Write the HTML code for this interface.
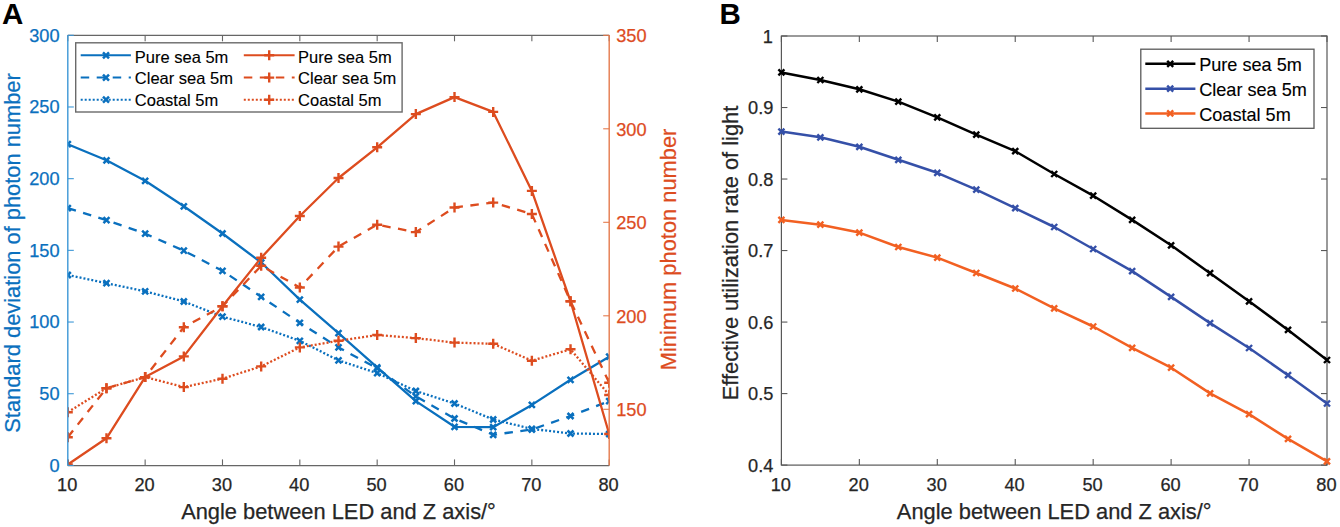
<!DOCTYPE html><html><head><meta charset="utf-8"><style>html,body{margin:0;padding:0;background:#fff;}svg{display:block;}</style></head><body>
<svg width="1340" height="527" viewBox="0 0 1340 527" style="font-family:'Liberation Sans', sans-serif">
<rect width="1340" height="527" fill="#fff"/>
<defs><clipPath id="ca"><rect x="67.8" y="35.3" width="541.4000000000001" height="430.09999999999997"/></clipPath></defs>
<g clip-path="url(#ca)">
<path d="M67.80,144.20 L106.47,160.30 L145.14,180.80 L183.81,206.30 L222.49,233.50 L261.16,262.50 L299.83,299.70 L338.50,333.20 L377.17,367.40 L415.84,401.10 L454.51,426.80 L493.19,427.20 L531.86,404.90 L570.53,379.80 L609.20,356.70" stroke="#0A70BE" stroke-width="2.3" fill="none" stroke-linejoin="round"/>
<path d="M64.80,141.20 L70.80,147.20 M64.80,147.20 L70.80,141.20" stroke="#0A70BE" stroke-width="2.5" fill="none"/>
<path d="M103.47,157.30 L109.47,163.30 M103.47,163.30 L109.47,157.30" stroke="#0A70BE" stroke-width="2.5" fill="none"/>
<path d="M142.14,177.80 L148.14,183.80 M142.14,183.80 L148.14,177.80" stroke="#0A70BE" stroke-width="2.5" fill="none"/>
<path d="M180.81,203.30 L186.81,209.30 M180.81,209.30 L186.81,203.30" stroke="#0A70BE" stroke-width="2.5" fill="none"/>
<path d="M219.49,230.50 L225.49,236.50 M219.49,236.50 L225.49,230.50" stroke="#0A70BE" stroke-width="2.5" fill="none"/>
<path d="M258.16,259.50 L264.16,265.50 M258.16,265.50 L264.16,259.50" stroke="#0A70BE" stroke-width="2.5" fill="none"/>
<path d="M296.83,296.70 L302.83,302.70 M296.83,302.70 L302.83,296.70" stroke="#0A70BE" stroke-width="2.5" fill="none"/>
<path d="M335.50,330.20 L341.50,336.20 M335.50,336.20 L341.50,330.20" stroke="#0A70BE" stroke-width="2.5" fill="none"/>
<path d="M374.17,364.40 L380.17,370.40 M374.17,370.40 L380.17,364.40" stroke="#0A70BE" stroke-width="2.5" fill="none"/>
<path d="M412.84,398.10 L418.84,404.10 M412.84,404.10 L418.84,398.10" stroke="#0A70BE" stroke-width="2.5" fill="none"/>
<path d="M451.51,423.80 L457.51,429.80 M451.51,429.80 L457.51,423.80" stroke="#0A70BE" stroke-width="2.5" fill="none"/>
<path d="M490.19,424.20 L496.19,430.20 M490.19,430.20 L496.19,424.20" stroke="#0A70BE" stroke-width="2.5" fill="none"/>
<path d="M528.86,401.90 L534.86,407.90 M528.86,407.90 L534.86,401.90" stroke="#0A70BE" stroke-width="2.5" fill="none"/>
<path d="M567.53,376.80 L573.53,382.80 M567.53,382.80 L573.53,376.80" stroke="#0A70BE" stroke-width="2.5" fill="none"/>
<path d="M606.20,353.70 L612.20,359.70 M606.20,359.70 L612.20,353.70" stroke="#0A70BE" stroke-width="2.5" fill="none"/>
<path d="M67.80,208.10 L106.47,220.20 L145.14,233.60 L183.81,250.70 L222.49,270.80 L261.16,296.80 L299.83,322.80 L338.50,347.40 L377.17,368.30 L415.84,396.40 L454.51,418.50 L493.19,434.80 L531.86,429.50 L570.53,416.00 L609.20,401.10" stroke="#0A70BE" stroke-width="2.3" fill="none" stroke-linejoin="round" stroke-dasharray="8.5 7.5"/>
<path d="M64.80,205.10 L70.80,211.10 M64.80,211.10 L70.80,205.10" stroke="#0A70BE" stroke-width="2.5" fill="none"/>
<path d="M103.47,217.20 L109.47,223.20 M103.47,223.20 L109.47,217.20" stroke="#0A70BE" stroke-width="2.5" fill="none"/>
<path d="M142.14,230.60 L148.14,236.60 M142.14,236.60 L148.14,230.60" stroke="#0A70BE" stroke-width="2.5" fill="none"/>
<path d="M180.81,247.70 L186.81,253.70 M180.81,253.70 L186.81,247.70" stroke="#0A70BE" stroke-width="2.5" fill="none"/>
<path d="M219.49,267.80 L225.49,273.80 M219.49,273.80 L225.49,267.80" stroke="#0A70BE" stroke-width="2.5" fill="none"/>
<path d="M258.16,293.80 L264.16,299.80 M258.16,299.80 L264.16,293.80" stroke="#0A70BE" stroke-width="2.5" fill="none"/>
<path d="M296.83,319.80 L302.83,325.80 M296.83,325.80 L302.83,319.80" stroke="#0A70BE" stroke-width="2.5" fill="none"/>
<path d="M335.50,344.40 L341.50,350.40 M335.50,350.40 L341.50,344.40" stroke="#0A70BE" stroke-width="2.5" fill="none"/>
<path d="M374.17,365.30 L380.17,371.30 M374.17,371.30 L380.17,365.30" stroke="#0A70BE" stroke-width="2.5" fill="none"/>
<path d="M412.84,393.40 L418.84,399.40 M412.84,399.40 L418.84,393.40" stroke="#0A70BE" stroke-width="2.5" fill="none"/>
<path d="M451.51,415.50 L457.51,421.50 M451.51,421.50 L457.51,415.50" stroke="#0A70BE" stroke-width="2.5" fill="none"/>
<path d="M490.19,431.80 L496.19,437.80 M490.19,437.80 L496.19,431.80" stroke="#0A70BE" stroke-width="2.5" fill="none"/>
<path d="M528.86,426.50 L534.86,432.50 M528.86,432.50 L534.86,426.50" stroke="#0A70BE" stroke-width="2.5" fill="none"/>
<path d="M567.53,413.00 L573.53,419.00 M567.53,419.00 L573.53,413.00" stroke="#0A70BE" stroke-width="2.5" fill="none"/>
<path d="M606.20,398.10 L612.20,404.10 M606.20,404.10 L612.20,398.10" stroke="#0A70BE" stroke-width="2.5" fill="none"/>
<path d="M67.80,275.00 L106.47,283.20 L145.14,291.30 L183.81,301.50 L222.49,316.70 L261.16,327.00 L299.83,340.80 L338.50,360.40 L377.17,373.10 L415.84,391.00 L454.51,403.50 L493.19,419.50 L531.86,428.90 L570.53,433.50 L609.20,434.00" stroke="#0A70BE" stroke-width="2.3" fill="none" stroke-linejoin="round" stroke-dasharray="2 2"/>
<path d="M64.80,272.00 L70.80,278.00 M64.80,278.00 L70.80,272.00" stroke="#0A70BE" stroke-width="2.5" fill="none"/>
<path d="M103.47,280.20 L109.47,286.20 M103.47,286.20 L109.47,280.20" stroke="#0A70BE" stroke-width="2.5" fill="none"/>
<path d="M142.14,288.30 L148.14,294.30 M142.14,294.30 L148.14,288.30" stroke="#0A70BE" stroke-width="2.5" fill="none"/>
<path d="M180.81,298.50 L186.81,304.50 M180.81,304.50 L186.81,298.50" stroke="#0A70BE" stroke-width="2.5" fill="none"/>
<path d="M219.49,313.70 L225.49,319.70 M219.49,319.70 L225.49,313.70" stroke="#0A70BE" stroke-width="2.5" fill="none"/>
<path d="M258.16,324.00 L264.16,330.00 M258.16,330.00 L264.16,324.00" stroke="#0A70BE" stroke-width="2.5" fill="none"/>
<path d="M296.83,337.80 L302.83,343.80 M296.83,343.80 L302.83,337.80" stroke="#0A70BE" stroke-width="2.5" fill="none"/>
<path d="M335.50,357.40 L341.50,363.40 M335.50,363.40 L341.50,357.40" stroke="#0A70BE" stroke-width="2.5" fill="none"/>
<path d="M374.17,370.10 L380.17,376.10 M374.17,376.10 L380.17,370.10" stroke="#0A70BE" stroke-width="2.5" fill="none"/>
<path d="M412.84,388.00 L418.84,394.00 M412.84,394.00 L418.84,388.00" stroke="#0A70BE" stroke-width="2.5" fill="none"/>
<path d="M451.51,400.50 L457.51,406.50 M451.51,406.50 L457.51,400.50" stroke="#0A70BE" stroke-width="2.5" fill="none"/>
<path d="M490.19,416.50 L496.19,422.50 M490.19,422.50 L496.19,416.50" stroke="#0A70BE" stroke-width="2.5" fill="none"/>
<path d="M528.86,425.90 L534.86,431.90 M528.86,431.90 L534.86,425.90" stroke="#0A70BE" stroke-width="2.5" fill="none"/>
<path d="M567.53,430.50 L573.53,436.50 M567.53,436.50 L573.53,430.50" stroke="#0A70BE" stroke-width="2.5" fill="none"/>
<path d="M606.20,431.00 L612.20,437.00 M606.20,437.00 L612.20,431.00" stroke="#0A70BE" stroke-width="2.5" fill="none"/>
<path d="M67.80,464.50 L106.47,438.30 L145.14,377.10 L183.81,356.40 L222.49,306.30 L261.16,257.80 L299.83,216.00 L338.50,178.00 L377.17,147.30 L415.84,114.10 L454.51,97.10 L493.19,111.90 L531.86,190.90 L570.53,301.30 L609.20,434.00" stroke="#DD4C1F" stroke-width="2.3" fill="none" stroke-linejoin="round"/>
<path d="M62.80,464.50 L72.80,464.50 M67.80,459.50 L67.80,469.50" stroke="#DD4C1F" stroke-width="2.4" fill="none"/>
<path d="M101.47,438.30 L111.47,438.30 M106.47,433.30 L106.47,443.30" stroke="#DD4C1F" stroke-width="2.4" fill="none"/>
<path d="M140.14,377.10 L150.14,377.10 M145.14,372.10 L145.14,382.10" stroke="#DD4C1F" stroke-width="2.4" fill="none"/>
<path d="M178.81,356.40 L188.81,356.40 M183.81,351.40 L183.81,361.40" stroke="#DD4C1F" stroke-width="2.4" fill="none"/>
<path d="M217.49,306.30 L227.49,306.30 M222.49,301.30 L222.49,311.30" stroke="#DD4C1F" stroke-width="2.4" fill="none"/>
<path d="M256.16,257.80 L266.16,257.80 M261.16,252.80 L261.16,262.80" stroke="#DD4C1F" stroke-width="2.4" fill="none"/>
<path d="M294.83,216.00 L304.83,216.00 M299.83,211.00 L299.83,221.00" stroke="#DD4C1F" stroke-width="2.4" fill="none"/>
<path d="M333.50,178.00 L343.50,178.00 M338.50,173.00 L338.50,183.00" stroke="#DD4C1F" stroke-width="2.4" fill="none"/>
<path d="M372.17,147.30 L382.17,147.30 M377.17,142.30 L377.17,152.30" stroke="#DD4C1F" stroke-width="2.4" fill="none"/>
<path d="M410.84,114.10 L420.84,114.10 M415.84,109.10 L415.84,119.10" stroke="#DD4C1F" stroke-width="2.4" fill="none"/>
<path d="M449.51,97.10 L459.51,97.10 M454.51,92.10 L454.51,102.10" stroke="#DD4C1F" stroke-width="2.4" fill="none"/>
<path d="M488.19,111.90 L498.19,111.90 M493.19,106.90 L493.19,116.90" stroke="#DD4C1F" stroke-width="2.4" fill="none"/>
<path d="M526.86,190.90 L536.86,190.90 M531.86,185.90 L531.86,195.90" stroke="#DD4C1F" stroke-width="2.4" fill="none"/>
<path d="M565.53,301.30 L575.53,301.30 M570.53,296.30 L570.53,306.30" stroke="#DD4C1F" stroke-width="2.4" fill="none"/>
<path d="M604.20,434.00 L614.20,434.00 M609.20,429.00 L609.20,439.00" stroke="#DD4C1F" stroke-width="2.4" fill="none"/>
<path d="M67.80,437.20 L106.47,388.20 L145.14,377.10 L183.81,327.20 L222.49,306.30 L261.16,265.80 L299.83,287.50 L338.50,246.60 L377.17,224.70 L415.84,232.10 L454.51,207.50 L493.19,202.60 L531.86,214.00 L570.53,301.30 L609.20,382.70" stroke="#DD4C1F" stroke-width="2.3" fill="none" stroke-linejoin="round" stroke-dasharray="8.5 7.5"/>
<path d="M62.80,437.20 L72.80,437.20 M67.80,432.20 L67.80,442.20" stroke="#DD4C1F" stroke-width="2.4" fill="none"/>
<path d="M101.47,388.20 L111.47,388.20 M106.47,383.20 L106.47,393.20" stroke="#DD4C1F" stroke-width="2.4" fill="none"/>
<path d="M140.14,377.10 L150.14,377.10 M145.14,372.10 L145.14,382.10" stroke="#DD4C1F" stroke-width="2.4" fill="none"/>
<path d="M178.81,327.20 L188.81,327.20 M183.81,322.20 L183.81,332.20" stroke="#DD4C1F" stroke-width="2.4" fill="none"/>
<path d="M217.49,306.30 L227.49,306.30 M222.49,301.30 L222.49,311.30" stroke="#DD4C1F" stroke-width="2.4" fill="none"/>
<path d="M256.16,265.80 L266.16,265.80 M261.16,260.80 L261.16,270.80" stroke="#DD4C1F" stroke-width="2.4" fill="none"/>
<path d="M294.83,287.50 L304.83,287.50 M299.83,282.50 L299.83,292.50" stroke="#DD4C1F" stroke-width="2.4" fill="none"/>
<path d="M333.50,246.60 L343.50,246.60 M338.50,241.60 L338.50,251.60" stroke="#DD4C1F" stroke-width="2.4" fill="none"/>
<path d="M372.17,224.70 L382.17,224.70 M377.17,219.70 L377.17,229.70" stroke="#DD4C1F" stroke-width="2.4" fill="none"/>
<path d="M410.84,232.10 L420.84,232.10 M415.84,227.10 L415.84,237.10" stroke="#DD4C1F" stroke-width="2.4" fill="none"/>
<path d="M449.51,207.50 L459.51,207.50 M454.51,202.50 L454.51,212.50" stroke="#DD4C1F" stroke-width="2.4" fill="none"/>
<path d="M488.19,202.60 L498.19,202.60 M493.19,197.60 L493.19,207.60" stroke="#DD4C1F" stroke-width="2.4" fill="none"/>
<path d="M526.86,214.00 L536.86,214.00 M531.86,209.00 L531.86,219.00" stroke="#DD4C1F" stroke-width="2.4" fill="none"/>
<path d="M565.53,301.30 L575.53,301.30 M570.53,296.30 L570.53,306.30" stroke="#DD4C1F" stroke-width="2.4" fill="none"/>
<path d="M604.20,382.70 L614.20,382.70 M609.20,377.70 L609.20,387.70" stroke="#DD4C1F" stroke-width="2.4" fill="none"/>
<path d="M67.80,412.20 L106.47,388.20 L145.14,377.10 L183.81,387.10 L222.49,378.70 L261.16,366.40 L299.83,347.40 L338.50,340.80 L377.17,335.00 L415.84,338.10 L454.51,342.60 L493.19,343.80 L531.86,360.70 L570.53,349.30 L609.20,395.00" stroke="#DD4C1F" stroke-width="2.3" fill="none" stroke-linejoin="round" stroke-dasharray="2 2"/>
<path d="M62.80,412.20 L72.80,412.20 M67.80,407.20 L67.80,417.20" stroke="#DD4C1F" stroke-width="2.4" fill="none"/>
<path d="M101.47,388.20 L111.47,388.20 M106.47,383.20 L106.47,393.20" stroke="#DD4C1F" stroke-width="2.4" fill="none"/>
<path d="M140.14,377.10 L150.14,377.10 M145.14,372.10 L145.14,382.10" stroke="#DD4C1F" stroke-width="2.4" fill="none"/>
<path d="M178.81,387.10 L188.81,387.10 M183.81,382.10 L183.81,392.10" stroke="#DD4C1F" stroke-width="2.4" fill="none"/>
<path d="M217.49,378.70 L227.49,378.70 M222.49,373.70 L222.49,383.70" stroke="#DD4C1F" stroke-width="2.4" fill="none"/>
<path d="M256.16,366.40 L266.16,366.40 M261.16,361.40 L261.16,371.40" stroke="#DD4C1F" stroke-width="2.4" fill="none"/>
<path d="M294.83,347.40 L304.83,347.40 M299.83,342.40 L299.83,352.40" stroke="#DD4C1F" stroke-width="2.4" fill="none"/>
<path d="M333.50,340.80 L343.50,340.80 M338.50,335.80 L338.50,345.80" stroke="#DD4C1F" stroke-width="2.4" fill="none"/>
<path d="M372.17,335.00 L382.17,335.00 M377.17,330.00 L377.17,340.00" stroke="#DD4C1F" stroke-width="2.4" fill="none"/>
<path d="M410.84,338.10 L420.84,338.10 M415.84,333.10 L415.84,343.10" stroke="#DD4C1F" stroke-width="2.4" fill="none"/>
<path d="M449.51,342.60 L459.51,342.60 M454.51,337.60 L454.51,347.60" stroke="#DD4C1F" stroke-width="2.4" fill="none"/>
<path d="M488.19,343.80 L498.19,343.80 M493.19,338.80 L493.19,348.80" stroke="#DD4C1F" stroke-width="2.4" fill="none"/>
<path d="M526.86,360.70 L536.86,360.70 M531.86,355.70 L531.86,365.70" stroke="#DD4C1F" stroke-width="2.4" fill="none"/>
<path d="M565.53,349.30 L575.53,349.30 M570.53,344.30 L570.53,354.30" stroke="#DD4C1F" stroke-width="2.4" fill="none"/>
<path d="M604.20,395.00 L614.20,395.00 M609.20,390.00 L609.20,400.00" stroke="#DD4C1F" stroke-width="2.4" fill="none"/>
</g>
<line x1="67.8" y1="35.3" x2="609.2" y2="35.3" stroke="#666666" stroke-width="1.2"/>
<line x1="67.8" y1="465.59999999999997" x2="609.2" y2="465.59999999999997" stroke="#666666" stroke-width="1.3"/>
<line x1="67.80" y1="465.4" x2="67.80" y2="459.4" stroke="#666666" stroke-width="1.1"/>
<line x1="67.80" y1="35.3" x2="67.80" y2="41.3" stroke="#666666" stroke-width="1.1"/>
<text x="67.20" y="490.6" font-size="18.2" fill="#262626" text-anchor="middle" stroke="#262626" stroke-width="0.25">10</text>
<line x1="145.14" y1="465.4" x2="145.14" y2="459.4" stroke="#666666" stroke-width="1.1"/>
<line x1="145.14" y1="35.3" x2="145.14" y2="41.3" stroke="#666666" stroke-width="1.1"/>
<text x="144.54" y="490.6" font-size="18.2" fill="#262626" text-anchor="middle" stroke="#262626" stroke-width="0.25">20</text>
<line x1="222.49" y1="465.4" x2="222.49" y2="459.4" stroke="#666666" stroke-width="1.1"/>
<line x1="222.49" y1="35.3" x2="222.49" y2="41.3" stroke="#666666" stroke-width="1.1"/>
<text x="221.89" y="490.6" font-size="18.2" fill="#262626" text-anchor="middle" stroke="#262626" stroke-width="0.25">30</text>
<line x1="299.83" y1="465.4" x2="299.83" y2="459.4" stroke="#666666" stroke-width="1.1"/>
<line x1="299.83" y1="35.3" x2="299.83" y2="41.3" stroke="#666666" stroke-width="1.1"/>
<text x="299.23" y="490.6" font-size="18.2" fill="#262626" text-anchor="middle" stroke="#262626" stroke-width="0.25">40</text>
<line x1="377.17" y1="465.4" x2="377.17" y2="459.4" stroke="#666666" stroke-width="1.1"/>
<line x1="377.17" y1="35.3" x2="377.17" y2="41.3" stroke="#666666" stroke-width="1.1"/>
<text x="376.57" y="490.6" font-size="18.2" fill="#262626" text-anchor="middle" stroke="#262626" stroke-width="0.25">50</text>
<line x1="454.51" y1="465.4" x2="454.51" y2="459.4" stroke="#666666" stroke-width="1.1"/>
<line x1="454.51" y1="35.3" x2="454.51" y2="41.3" stroke="#666666" stroke-width="1.1"/>
<text x="453.91" y="490.6" font-size="18.2" fill="#262626" text-anchor="middle" stroke="#262626" stroke-width="0.25">60</text>
<line x1="531.86" y1="465.4" x2="531.86" y2="459.4" stroke="#666666" stroke-width="1.1"/>
<line x1="531.86" y1="35.3" x2="531.86" y2="41.3" stroke="#666666" stroke-width="1.1"/>
<text x="531.26" y="490.6" font-size="18.2" fill="#262626" text-anchor="middle" stroke="#262626" stroke-width="0.25">70</text>
<line x1="609.20" y1="465.4" x2="609.20" y2="459.4" stroke="#666666" stroke-width="1.1"/>
<line x1="609.20" y1="35.3" x2="609.20" y2="41.3" stroke="#666666" stroke-width="1.1"/>
<text x="608.60" y="490.6" font-size="18.2" fill="#262626" text-anchor="middle" stroke="#262626" stroke-width="0.25">80</text>
<line x1="67.8" y1="35.3" x2="67.8" y2="465.4" stroke="#3d97d6" stroke-width="1.4"/>
<line x1="609.2" y1="35.3" x2="609.2" y2="465.4" stroke="#e57a4c" stroke-width="1.4"/>
<line x1="67.8" y1="465.40" x2="73.8" y2="465.40" stroke="#3d97d6" stroke-width="1.1"/>
<text x="59.6" y="471.65" font-size="18.2" fill="#0A70BE" text-anchor="end" stroke="#0A70BE" stroke-width="0.25">0</text>
<line x1="67.8" y1="393.72" x2="73.8" y2="393.72" stroke="#3d97d6" stroke-width="1.1"/>
<text x="59.6" y="399.97" font-size="18.2" fill="#0A70BE" text-anchor="end" stroke="#0A70BE" stroke-width="0.25">50</text>
<line x1="67.8" y1="322.03" x2="73.8" y2="322.03" stroke="#3d97d6" stroke-width="1.1"/>
<text x="59.6" y="328.28" font-size="18.2" fill="#0A70BE" text-anchor="end" stroke="#0A70BE" stroke-width="0.25">100</text>
<line x1="67.8" y1="250.35" x2="73.8" y2="250.35" stroke="#3d97d6" stroke-width="1.1"/>
<text x="59.6" y="256.60" font-size="18.2" fill="#0A70BE" text-anchor="end" stroke="#0A70BE" stroke-width="0.25">150</text>
<line x1="67.8" y1="178.67" x2="73.8" y2="178.67" stroke="#3d97d6" stroke-width="1.1"/>
<text x="59.6" y="184.92" font-size="18.2" fill="#0A70BE" text-anchor="end" stroke="#0A70BE" stroke-width="0.25">200</text>
<line x1="67.8" y1="106.98" x2="73.8" y2="106.98" stroke="#3d97d6" stroke-width="1.1"/>
<text x="59.6" y="113.23" font-size="18.2" fill="#0A70BE" text-anchor="end" stroke="#0A70BE" stroke-width="0.25">250</text>
<line x1="67.8" y1="35.30" x2="73.8" y2="35.30" stroke="#3d97d6" stroke-width="1.1"/>
<text x="59.6" y="41.55" font-size="18.2" fill="#0A70BE" text-anchor="end" stroke="#0A70BE" stroke-width="0.25">300</text>
<line x1="609.2" y1="409.30" x2="603.2" y2="409.30" stroke="#e57a4c" stroke-width="1.1"/>
<text x="616.2" y="416.30" font-size="18.2" fill="#DD4C1F" stroke="#DD4C1F" stroke-width="0.25">150</text>
<line x1="609.2" y1="315.80" x2="603.2" y2="315.80" stroke="#e57a4c" stroke-width="1.1"/>
<text x="616.2" y="322.80" font-size="18.2" fill="#DD4C1F" stroke="#DD4C1F" stroke-width="0.25">200</text>
<line x1="609.2" y1="222.30" x2="603.2" y2="222.30" stroke="#e57a4c" stroke-width="1.1"/>
<text x="616.2" y="229.30" font-size="18.2" fill="#DD4C1F" stroke="#DD4C1F" stroke-width="0.25">250</text>
<line x1="609.2" y1="128.80" x2="603.2" y2="128.80" stroke="#e57a4c" stroke-width="1.1"/>
<text x="616.2" y="135.80" font-size="18.2" fill="#DD4C1F" stroke="#DD4C1F" stroke-width="0.25">300</text>
<line x1="609.2" y1="35.30" x2="603.2" y2="35.30" stroke="#e57a4c" stroke-width="1.1"/>
<text x="616.2" y="42.30" font-size="18.2" fill="#DD4C1F" stroke="#DD4C1F" stroke-width="0.25">350</text>
<text x="338.5" y="519.3" font-size="21.85" fill="#262626" text-anchor="middle" stroke="#262626" stroke-width="0.25">Angle between LED and Z axis/°</text>
<text transform="translate(20,253) rotate(-90)" font-size="21.85" fill="#0A70BE" text-anchor="middle" stroke="#0A70BE" stroke-width="0.25">Standard deviation of photon number</text>
<text transform="translate(676,249.5) rotate(-90)" font-size="21.85" fill="#DD4C1F" text-anchor="middle" stroke="#DD4C1F" stroke-width="0.25">Minimum photon number</text>
<text x="2.0" y="23.7" font-size="29.5" font-weight="bold" fill="#000">A</text>
<rect x="75.7" y="42.8" width="326.4" height="69.2" fill="#fff" stroke="#6a6a6a" stroke-width="1.4"/>
<path d="M80.7,55.3 L130.9,55.3" stroke="#0A70BE" stroke-width="2" fill="none"/>
<path d="M103.00,52.30 L109.00,58.30 M103.00,58.30 L109.00,52.30" stroke="#0A70BE" stroke-width="2.5" fill="none"/>
<text x="134.8" y="62.7" font-size="16.5" fill="#000" stroke="#000" stroke-width="0.12">Pure sea 5m</text>
<path d="M243.8,55.3 L294.6,55.3" stroke="#DD4C1F" stroke-width="2" fill="none"/>
<path d="M264.20,55.30 L274.20,55.30 M269.20,50.30 L269.20,60.30" stroke="#DD4C1F" stroke-width="2.4" fill="none"/>
<text x="298.1" y="62.7" font-size="16.5" fill="#000" stroke="#000" stroke-width="0.12">Pure sea 5m</text>
<path d="M80.7,77.6 L130.9,77.6" stroke="#0A70BE" stroke-width="2" fill="none" stroke-dasharray="8.5 7.5"/>
<path d="M103.00,74.60 L109.00,80.60 M103.00,80.60 L109.00,74.60" stroke="#0A70BE" stroke-width="2.5" fill="none"/>
<text x="134.8" y="84.3" font-size="16.5" fill="#000" stroke="#000" stroke-width="0.12">Clear sea 5m</text>
<path d="M243.8,77.6 L294.6,77.6" stroke="#DD4C1F" stroke-width="2" fill="none" stroke-dasharray="8.5 7.5"/>
<path d="M264.20,77.60 L274.20,77.60 M269.20,72.60 L269.20,82.60" stroke="#DD4C1F" stroke-width="2.4" fill="none"/>
<text x="298.1" y="84.3" font-size="16.5" fill="#000" stroke="#000" stroke-width="0.12">Clear sea 5m</text>
<path d="M80.7,99.7 L130.9,99.7" stroke="#0A70BE" stroke-width="2" fill="none" stroke-dasharray="2 2"/>
<path d="M103.00,96.70 L109.00,102.70 M103.00,102.70 L109.00,96.70" stroke="#0A70BE" stroke-width="2.5" fill="none"/>
<text x="134.8" y="106.3" font-size="16.5" fill="#000" stroke="#000" stroke-width="0.12">Coastal 5m</text>
<path d="M243.8,99.7 L294.6,99.7" stroke="#DD4C1F" stroke-width="2" fill="none" stroke-dasharray="2 2"/>
<path d="M264.20,99.70 L274.20,99.70 M269.20,94.70 L269.20,104.70" stroke="#DD4C1F" stroke-width="2.4" fill="none"/>
<text x="298.1" y="106.3" font-size="16.5" fill="#000" stroke="#000" stroke-width="0.12">Coastal 5m</text>
<rect x="781.4" y="36.0" width="545.6" height="429.1" fill="none" stroke="#585858" stroke-width="1.2"/>
<line x1="781.40" y1="465.1" x2="781.40" y2="459.1" stroke="#585858" stroke-width="1.1"/>
<line x1="781.40" y1="36.0" x2="781.40" y2="42.0" stroke="#585858" stroke-width="1.1"/>
<text x="780.80" y="490.6" font-size="18.2" fill="#262626" text-anchor="middle" stroke="#262626" stroke-width="0.25">10</text>
<line x1="859.34" y1="465.1" x2="859.34" y2="459.1" stroke="#585858" stroke-width="1.1"/>
<line x1="859.34" y1="36.0" x2="859.34" y2="42.0" stroke="#585858" stroke-width="1.1"/>
<text x="858.74" y="490.6" font-size="18.2" fill="#262626" text-anchor="middle" stroke="#262626" stroke-width="0.25">20</text>
<line x1="937.29" y1="465.1" x2="937.29" y2="459.1" stroke="#585858" stroke-width="1.1"/>
<line x1="937.29" y1="36.0" x2="937.29" y2="42.0" stroke="#585858" stroke-width="1.1"/>
<text x="936.69" y="490.6" font-size="18.2" fill="#262626" text-anchor="middle" stroke="#262626" stroke-width="0.25">30</text>
<line x1="1015.23" y1="465.1" x2="1015.23" y2="459.1" stroke="#585858" stroke-width="1.1"/>
<line x1="1015.23" y1="36.0" x2="1015.23" y2="42.0" stroke="#585858" stroke-width="1.1"/>
<text x="1014.63" y="490.6" font-size="18.2" fill="#262626" text-anchor="middle" stroke="#262626" stroke-width="0.25">40</text>
<line x1="1093.17" y1="465.1" x2="1093.17" y2="459.1" stroke="#585858" stroke-width="1.1"/>
<line x1="1093.17" y1="36.0" x2="1093.17" y2="42.0" stroke="#585858" stroke-width="1.1"/>
<text x="1092.57" y="490.6" font-size="18.2" fill="#262626" text-anchor="middle" stroke="#262626" stroke-width="0.25">50</text>
<line x1="1171.11" y1="465.1" x2="1171.11" y2="459.1" stroke="#585858" stroke-width="1.1"/>
<line x1="1171.11" y1="36.0" x2="1171.11" y2="42.0" stroke="#585858" stroke-width="1.1"/>
<text x="1170.51" y="490.6" font-size="18.2" fill="#262626" text-anchor="middle" stroke="#262626" stroke-width="0.25">60</text>
<line x1="1249.06" y1="465.1" x2="1249.06" y2="459.1" stroke="#585858" stroke-width="1.1"/>
<line x1="1249.06" y1="36.0" x2="1249.06" y2="42.0" stroke="#585858" stroke-width="1.1"/>
<text x="1248.46" y="490.6" font-size="18.2" fill="#262626" text-anchor="middle" stroke="#262626" stroke-width="0.25">70</text>
<line x1="1327.00" y1="465.1" x2="1327.00" y2="459.1" stroke="#585858" stroke-width="1.1"/>
<line x1="1327.00" y1="36.0" x2="1327.00" y2="42.0" stroke="#585858" stroke-width="1.1"/>
<text x="1326.40" y="490.6" font-size="18.2" fill="#262626" text-anchor="middle" stroke="#262626" stroke-width="0.25">80</text>
<line x1="781.4" y1="465.10" x2="787.4" y2="465.10" stroke="#585858" stroke-width="1.1"/>
<line x1="1327.0" y1="465.10" x2="1321.0" y2="465.10" stroke="#585858" stroke-width="1.1"/>
<text x="773.4" y="471.80" font-size="18.2" fill="#262626" text-anchor="end" stroke="#262626" stroke-width="0.25">0.4</text>
<line x1="781.4" y1="393.58" x2="787.4" y2="393.58" stroke="#585858" stroke-width="1.1"/>
<line x1="1327.0" y1="393.58" x2="1321.0" y2="393.58" stroke="#585858" stroke-width="1.1"/>
<text x="773.4" y="400.28" font-size="18.2" fill="#262626" text-anchor="end" stroke="#262626" stroke-width="0.25">0.5</text>
<line x1="781.4" y1="322.07" x2="787.4" y2="322.07" stroke="#585858" stroke-width="1.1"/>
<line x1="1327.0" y1="322.07" x2="1321.0" y2="322.07" stroke="#585858" stroke-width="1.1"/>
<text x="773.4" y="328.77" font-size="18.2" fill="#262626" text-anchor="end" stroke="#262626" stroke-width="0.25">0.6</text>
<line x1="781.4" y1="250.55" x2="787.4" y2="250.55" stroke="#585858" stroke-width="1.1"/>
<line x1="1327.0" y1="250.55" x2="1321.0" y2="250.55" stroke="#585858" stroke-width="1.1"/>
<text x="773.4" y="257.25" font-size="18.2" fill="#262626" text-anchor="end" stroke="#262626" stroke-width="0.25">0.7</text>
<line x1="781.4" y1="179.03" x2="787.4" y2="179.03" stroke="#585858" stroke-width="1.1"/>
<line x1="1327.0" y1="179.03" x2="1321.0" y2="179.03" stroke="#585858" stroke-width="1.1"/>
<text x="773.4" y="185.73" font-size="18.2" fill="#262626" text-anchor="end" stroke="#262626" stroke-width="0.25">0.8</text>
<line x1="781.4" y1="107.52" x2="787.4" y2="107.52" stroke="#585858" stroke-width="1.1"/>
<line x1="1327.0" y1="107.52" x2="1321.0" y2="107.52" stroke="#585858" stroke-width="1.1"/>
<text x="773.4" y="114.22" font-size="18.2" fill="#262626" text-anchor="end" stroke="#262626" stroke-width="0.25">0.9</text>
<line x1="781.4" y1="36.00" x2="787.4" y2="36.00" stroke="#585858" stroke-width="1.1"/>
<line x1="1327.0" y1="36.00" x2="1321.0" y2="36.00" stroke="#585858" stroke-width="1.1"/>
<text x="767.7" y="42.70" font-size="18.2" fill="#262626" text-anchor="middle" stroke="#262626" stroke-width="0.25">1</text>
<path d="M781.40,72.40 L820.37,80.00 L859.34,89.30 L898.31,101.60 L937.29,117.40 L976.26,134.70 L1015.23,151.20 L1054.20,174.00 L1093.17,195.70 L1132.14,219.90 L1171.11,245.30 L1210.09,273.20 L1249.06,301.30 L1288.03,329.90 L1327.00,360.00" stroke="#000" stroke-width="2.5" fill="none" stroke-linejoin="round"/>
<path d="M778.40,69.40 L784.40,75.40 M778.40,75.40 L784.40,69.40" stroke="#000" stroke-width="2.4" fill="none"/>
<path d="M817.37,77.00 L823.37,83.00 M817.37,83.00 L823.37,77.00" stroke="#000" stroke-width="2.4" fill="none"/>
<path d="M856.34,86.30 L862.34,92.30 M856.34,92.30 L862.34,86.30" stroke="#000" stroke-width="2.4" fill="none"/>
<path d="M895.31,98.60 L901.31,104.60 M895.31,104.60 L901.31,98.60" stroke="#000" stroke-width="2.4" fill="none"/>
<path d="M934.29,114.40 L940.29,120.40 M934.29,120.40 L940.29,114.40" stroke="#000" stroke-width="2.4" fill="none"/>
<path d="M973.26,131.70 L979.26,137.70 M973.26,137.70 L979.26,131.70" stroke="#000" stroke-width="2.4" fill="none"/>
<path d="M1012.23,148.20 L1018.23,154.20 M1012.23,154.20 L1018.23,148.20" stroke="#000" stroke-width="2.4" fill="none"/>
<path d="M1051.20,171.00 L1057.20,177.00 M1051.20,177.00 L1057.20,171.00" stroke="#000" stroke-width="2.4" fill="none"/>
<path d="M1090.17,192.70 L1096.17,198.70 M1090.17,198.70 L1096.17,192.70" stroke="#000" stroke-width="2.4" fill="none"/>
<path d="M1129.14,216.90 L1135.14,222.90 M1129.14,222.90 L1135.14,216.90" stroke="#000" stroke-width="2.4" fill="none"/>
<path d="M1168.11,242.30 L1174.11,248.30 M1168.11,248.30 L1174.11,242.30" stroke="#000" stroke-width="2.4" fill="none"/>
<path d="M1207.09,270.20 L1213.09,276.20 M1207.09,276.20 L1213.09,270.20" stroke="#000" stroke-width="2.4" fill="none"/>
<path d="M1246.06,298.30 L1252.06,304.30 M1246.06,304.30 L1252.06,298.30" stroke="#000" stroke-width="2.4" fill="none"/>
<path d="M1285.03,326.90 L1291.03,332.90 M1285.03,332.90 L1291.03,326.90" stroke="#000" stroke-width="2.4" fill="none"/>
<path d="M1324.00,357.00 L1330.00,363.00 M1324.00,363.00 L1330.00,357.00" stroke="#000" stroke-width="2.4" fill="none"/>
<path d="M781.40,131.60 L820.37,137.30 L859.34,146.80 L898.31,159.80 L937.29,172.80 L976.26,189.70 L1015.23,208.20 L1054.20,227.00 L1093.17,249.00 L1132.14,271.10 L1171.11,296.90 L1210.09,323.10 L1249.06,348.00 L1288.03,375.20 L1327.00,403.50" stroke="#3550A8" stroke-width="2.5" fill="none" stroke-linejoin="round"/>
<path d="M778.40,128.60 L784.40,134.60 M778.40,134.60 L784.40,128.60" stroke="#3550A8" stroke-width="2.4" fill="none"/>
<path d="M817.37,134.30 L823.37,140.30 M817.37,140.30 L823.37,134.30" stroke="#3550A8" stroke-width="2.4" fill="none"/>
<path d="M856.34,143.80 L862.34,149.80 M856.34,149.80 L862.34,143.80" stroke="#3550A8" stroke-width="2.4" fill="none"/>
<path d="M895.31,156.80 L901.31,162.80 M895.31,162.80 L901.31,156.80" stroke="#3550A8" stroke-width="2.4" fill="none"/>
<path d="M934.29,169.80 L940.29,175.80 M934.29,175.80 L940.29,169.80" stroke="#3550A8" stroke-width="2.4" fill="none"/>
<path d="M973.26,186.70 L979.26,192.70 M973.26,192.70 L979.26,186.70" stroke="#3550A8" stroke-width="2.4" fill="none"/>
<path d="M1012.23,205.20 L1018.23,211.20 M1012.23,211.20 L1018.23,205.20" stroke="#3550A8" stroke-width="2.4" fill="none"/>
<path d="M1051.20,224.00 L1057.20,230.00 M1051.20,230.00 L1057.20,224.00" stroke="#3550A8" stroke-width="2.4" fill="none"/>
<path d="M1090.17,246.00 L1096.17,252.00 M1090.17,252.00 L1096.17,246.00" stroke="#3550A8" stroke-width="2.4" fill="none"/>
<path d="M1129.14,268.10 L1135.14,274.10 M1129.14,274.10 L1135.14,268.10" stroke="#3550A8" stroke-width="2.4" fill="none"/>
<path d="M1168.11,293.90 L1174.11,299.90 M1168.11,299.90 L1174.11,293.90" stroke="#3550A8" stroke-width="2.4" fill="none"/>
<path d="M1207.09,320.10 L1213.09,326.10 M1207.09,326.10 L1213.09,320.10" stroke="#3550A8" stroke-width="2.4" fill="none"/>
<path d="M1246.06,345.00 L1252.06,351.00 M1246.06,351.00 L1252.06,345.00" stroke="#3550A8" stroke-width="2.4" fill="none"/>
<path d="M1285.03,372.20 L1291.03,378.20 M1285.03,378.20 L1291.03,372.20" stroke="#3550A8" stroke-width="2.4" fill="none"/>
<path d="M1324.00,400.50 L1330.00,406.50 M1324.00,406.50 L1330.00,400.50" stroke="#3550A8" stroke-width="2.4" fill="none"/>
<path d="M781.40,219.90 L820.37,224.70 L859.34,232.60 L898.31,247.00 L937.29,257.60 L976.26,273.00 L1015.23,288.50 L1054.20,308.30 L1093.17,326.50 L1132.14,347.80 L1171.11,367.70 L1210.09,393.40 L1249.06,414.10 L1288.03,438.90 L1327.00,461.40" stroke="#F26022" stroke-width="2.5" fill="none" stroke-linejoin="round"/>
<path d="M778.40,216.90 L784.40,222.90 M778.40,222.90 L784.40,216.90" stroke="#F26022" stroke-width="2.4" fill="none"/>
<path d="M817.37,221.70 L823.37,227.70 M817.37,227.70 L823.37,221.70" stroke="#F26022" stroke-width="2.4" fill="none"/>
<path d="M856.34,229.60 L862.34,235.60 M856.34,235.60 L862.34,229.60" stroke="#F26022" stroke-width="2.4" fill="none"/>
<path d="M895.31,244.00 L901.31,250.00 M895.31,250.00 L901.31,244.00" stroke="#F26022" stroke-width="2.4" fill="none"/>
<path d="M934.29,254.60 L940.29,260.60 M934.29,260.60 L940.29,254.60" stroke="#F26022" stroke-width="2.4" fill="none"/>
<path d="M973.26,270.00 L979.26,276.00 M973.26,276.00 L979.26,270.00" stroke="#F26022" stroke-width="2.4" fill="none"/>
<path d="M1012.23,285.50 L1018.23,291.50 M1012.23,291.50 L1018.23,285.50" stroke="#F26022" stroke-width="2.4" fill="none"/>
<path d="M1051.20,305.30 L1057.20,311.30 M1051.20,311.30 L1057.20,305.30" stroke="#F26022" stroke-width="2.4" fill="none"/>
<path d="M1090.17,323.50 L1096.17,329.50 M1090.17,329.50 L1096.17,323.50" stroke="#F26022" stroke-width="2.4" fill="none"/>
<path d="M1129.14,344.80 L1135.14,350.80 M1129.14,350.80 L1135.14,344.80" stroke="#F26022" stroke-width="2.4" fill="none"/>
<path d="M1168.11,364.70 L1174.11,370.70 M1168.11,370.70 L1174.11,364.70" stroke="#F26022" stroke-width="2.4" fill="none"/>
<path d="M1207.09,390.40 L1213.09,396.40 M1207.09,396.40 L1213.09,390.40" stroke="#F26022" stroke-width="2.4" fill="none"/>
<path d="M1246.06,411.10 L1252.06,417.10 M1246.06,417.10 L1252.06,411.10" stroke="#F26022" stroke-width="2.4" fill="none"/>
<path d="M1285.03,435.90 L1291.03,441.90 M1285.03,441.90 L1291.03,435.90" stroke="#F26022" stroke-width="2.4" fill="none"/>
<path d="M1324.00,458.40 L1330.00,464.40 M1324.00,464.40 L1330.00,458.40" stroke="#F26022" stroke-width="2.4" fill="none"/>
<text x="1054.2" y="519.3" font-size="21.85" fill="#262626" text-anchor="middle" stroke="#262626" stroke-width="0.25">Angle between LED and Z axis/°</text>
<text transform="translate(738,253) rotate(-90)" font-size="21.85" fill="#262626" text-anchor="middle" stroke="#262626" stroke-width="0.25">Effective utilization rate of light</text>
<text x="719.5" y="24.1" font-size="29.5" font-weight="bold" fill="#000">B</text>
<rect x="1140.8" y="49.2" width="173.2" height="79.1" fill="#fff" stroke="#5a5a5a" stroke-width="1.3"/>
<path d="M1145.3,63.8 L1195.4,63.8" stroke="#000" stroke-width="2.5" fill="none"/>
<path d="M1167.20,60.80 L1173.20,66.80 M1167.20,66.80 L1173.20,60.80" stroke="#000" stroke-width="2.4" fill="none"/>
<text x="1199.2" y="71.0" font-size="18.1" fill="#000" stroke="#000" stroke-width="0.12">Pure sea 5m</text>
<path d="M1145.3,88.7 L1195.4,88.7" stroke="#3550A8" stroke-width="2.5" fill="none"/>
<path d="M1167.20,85.70 L1173.20,91.70 M1167.20,91.70 L1173.20,85.70" stroke="#3550A8" stroke-width="2.4" fill="none"/>
<text x="1199.2" y="95.8" font-size="18.1" fill="#000" stroke="#000" stroke-width="0.12">Clear sea 5m</text>
<path d="M1145.3,113.4 L1195.4,113.4" stroke="#F26022" stroke-width="2.5" fill="none"/>
<path d="M1167.20,110.40 L1173.20,116.40 M1167.20,116.40 L1173.20,110.40" stroke="#F26022" stroke-width="2.4" fill="none"/>
<text x="1199.2" y="120.6" font-size="18.1" fill="#000" stroke="#000" stroke-width="0.12">Coastal 5m</text>
</svg></body></html>
